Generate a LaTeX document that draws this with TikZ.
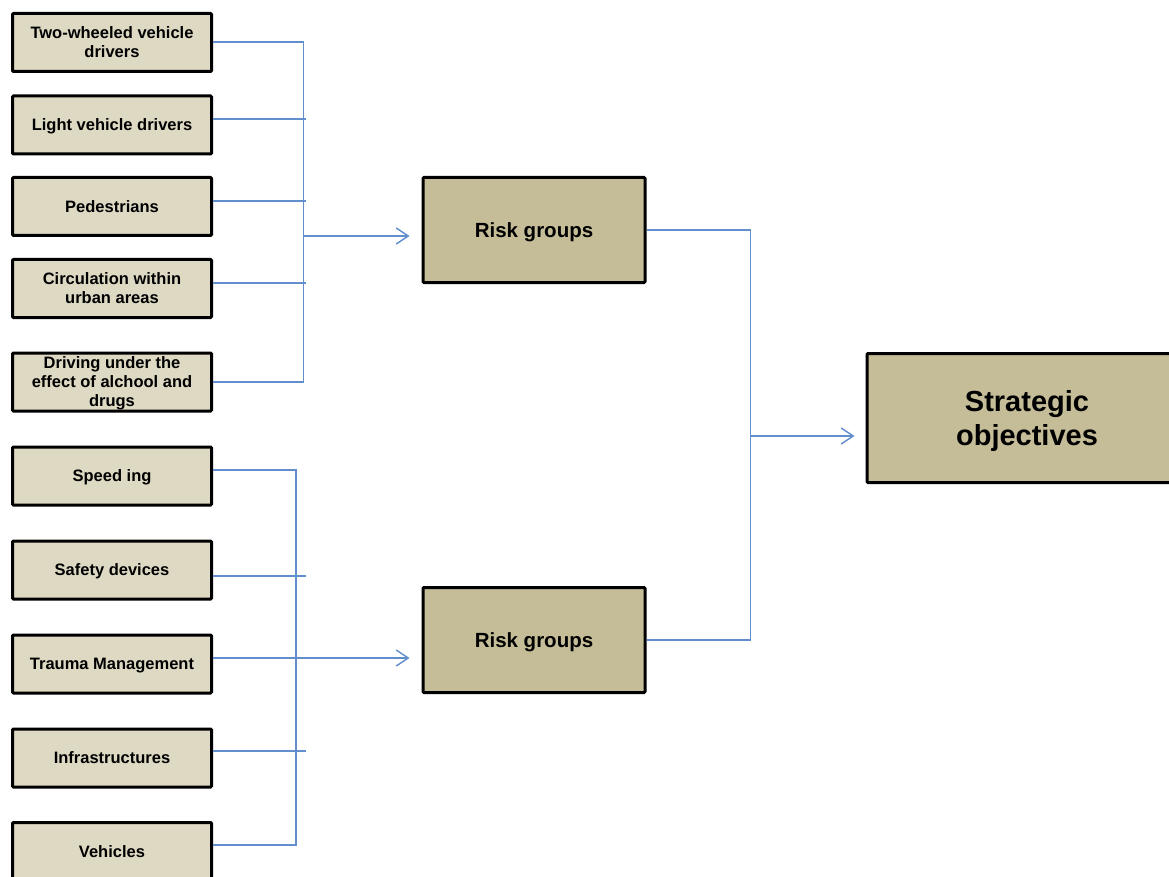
\documentclass[tikz,border=0pt]{standalone}
\usepackage{fontspec}
\setmainfont{Liberation Sans}
\usetikzlibrary{arrows.meta}
\definecolor{smallfill}{RGB}{221,217,195}
\definecolor{bigfill}{RGB}{196,189,151}
\definecolor{conn}{RGB}{98,142,206}
\tikzset{
  smallbox/.style={draw=black, line width=3pt, rounded corners=1pt, fill=smallfill,
    minimum width=199pt, minimum height=58pt, inner sep=0pt, align=center, text depth=0pt,
    font=\fontsize{16.5}{19}\selectfont\bfseries},
  riskbox/.style={draw=black, line width=3pt, rounded corners=1pt, fill=bigfill,
    minimum width=222pt, minimum height=105pt, inner sep=0pt, align=center, text depth=0pt,
    font=\fontsize{20.5}{24}\selectfont\bfseries},
  stratbox/.style={draw=black, line width=3pt, rounded corners=1pt, fill=bigfill,
    minimum width=320pt, minimum height=129pt, inner sep=0pt, align=center, text depth=0pt,
    font=\fontsize{29}{34}\selectfont\bfseries},
  link/.style={draw=conn, line width=1.4pt},
  linkarrow/.style={link, -{Straight Barb[length=12pt,width=16pt,line width=1.4pt]}}
}
\begin{document}
\begin{tikzpicture}[x=1pt,y=-1pt]
\useasboundingbox (0,0) rectangle (1169,877);
\clip (0,0) rectangle (1169,877);
% left boxes
\node[smallbox] (b1) at (112,42.5) {Two-wheeled vehicle\\drivers};
\node[smallbox] (b2) at (112,125) {Light vehicle drivers};
\node[smallbox] (b3) at (112,206.5) {Pedestrians};
\node[smallbox] (b4) at (112,288.5) {Circulation within\\urban areas};
\node[smallbox] (b5) at (112,382) {Driving under the\\effect of alchool and\\drugs};
\node[smallbox] (b6) at (112,476) {Speed ing};
\node[smallbox] (b7) at (112,570) {Safety devices};
\node[smallbox] (b8) at (112,664) {Trauma Management};
\node[smallbox] (b9) at (112,758) {Infrastructures};
\node[smallbox] (b10) at (112,851.5) {Vehicles};
% risk groups
\node[riskbox] (r1) at (534,230) {Risk groups};
\node[riskbox] (r2) at (534,640) {Risk groups};
% strategic
\node[stratbox] (s) at (1027,418) {Strategic\\objectives};
% junction coordinates
\coordinate (t1) at (303.5,42);
\coordinate (t5) at (303.5,382);
\coordinate (tarr) at (303.5,236);
\coordinate (u1) at (296,470);
\coordinate (u5) at (296,845);
\coordinate (rv1) at (750.5,230);
\coordinate (rv2) at (750.5,640);
\coordinate (rarr) at (750.5,436);
% top group connectors
\draw[link] ([yshift=0.5pt]b1.east) -- (t1) -- (t5) -- (b5.east);
\draw[link] ([yshift=6pt]b2.east) -- ++(93,0);
\draw[link] ([yshift=5.5pt]b3.east) -- ++(93,0);
\draw[link] ([yshift=5.5pt]b4.east) -- ++(93,0);
\draw[linkarrow] (tarr) -- ([xshift=-12pt,yshift=-6pt]r1.west);
% bottom group connectors
\draw[link] ([yshift=6pt]b6.east) -- (u1) -- (u5) -- ([yshift=6.5pt]b10.east);
\draw[link] ([yshift=-6pt]b7.east) -- ++(93,0);
\draw[link] ([yshift=7pt]b9.east) -- ++(93,0);
\draw[linkarrow] ([yshift=6pt]b8.east) -- ([xshift=-12pt,yshift=-18pt]r2.west);
% right connectors
\draw[link] (r1.east) -- (rv1) -- (rv2) -- (r2.east);
\draw[linkarrow] (rarr) -- ([xshift=-11pt,yshift=-18pt]s.west);
\end{tikzpicture}
\end{document}
